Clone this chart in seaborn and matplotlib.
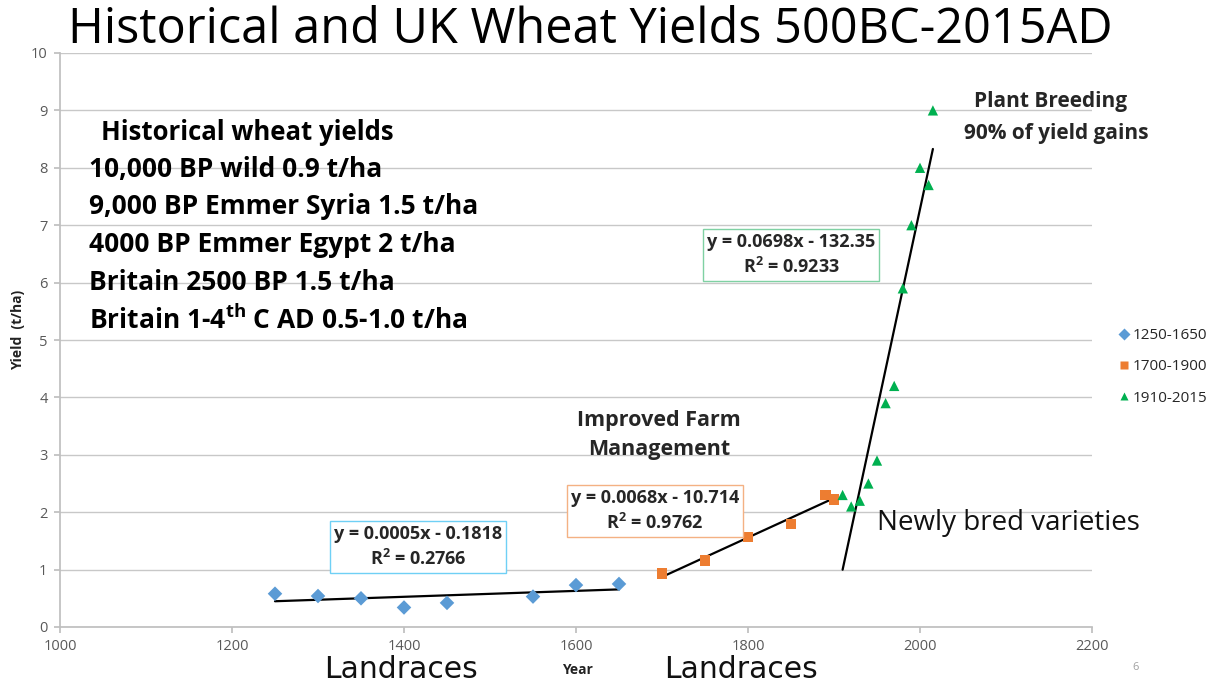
import numpy as np
import pandas as pd
import matplotlib
matplotlib.use("Agg")
import matplotlib.pyplot as plt
import seaborn as sns

# ---- data ----
years_a = [1250, 1300, 1350, 1400, 1450, 1550, 1600, 1650]
yield_a = [0.58, 0.54, 0.50, 0.34, 0.42, 0.53, 0.73, 0.75]
years_b = [1700, 1750, 1800, 1850, 1890, 1900]
yield_b = [0.93, 1.16, 1.57, 1.79, 2.30, 2.22]
years_c = [1910, 1920, 1930, 1940, 1950, 1960, 1970, 1980, 1990, 2000, 2010, 2015]
yield_c = [2.30, 2.10, 2.20, 2.50, 2.90, 3.90, 4.20, 5.90, 7.00, 8.00, 7.70, 9.00]
series_names = ["1250-1650", "1700-1900", "1910-2015"]
colors = ["#5B9BD5", "#ED7D31", "#00B050"]
markers = ["D", "s", "^"]
eq_texts = ["y = 0.0005x - 0.1818\nR$^2$ = 0.2766",
            "y = 0.0068x - 10.714\nR$^2$ = 0.9762",
            "y = 0.0698x - 132.35\nR$^2$ = 0.9233"]
box_edges = ["#6FD0F5", "#F4B183", "#7FD1A3"]
x_ticks = [1000, 1200, 1400, 1600, 1800, 2000, 2200]
y_ticks = list(range(0, 11))
history_lines = ["10,000 BP wild 0.9 t/ha",
                 "9,000 BP Emmer Syria 1.5 t/ha",
                 "4000 BP Emmer Egypt 2 t/ha",
                 "Britain 2500 BP 1.5 t/ha",
                 "Britain 1-4$^{\\mathbf{th}}$ C AD 0.5-1.0 t/ha"]

df = pd.concat([
    pd.DataFrame({"Year": years_a, "Yield": yield_a, "Period": series_names[0]}),
    pd.DataFrame({"Year": years_b, "Yield": yield_b, "Period": series_names[1]}),
    pd.DataFrame({"Year": years_c, "Yield": yield_c, "Period": series_names[2]}),
], ignore_index=True)

sns.set_theme(style="white")
plt.rcParams["font.family"] = ["Open Sans", "DejaVu Sans"]
plt.rcParams["mathtext.fontset"] = "custom"
plt.rcParams["mathtext.rm"] = "Open Sans:bold"
plt.rcParams["mathtext.bf"] = "Open Sans:bold"

fig = plt.figure(figsize=(12.31, 6.83), dpi=100)
ax = fig.add_axes([60/1231, 1-627/683, (1092-60)/1231, (627-53)/683])

# trend lines
for name, c in zip(series_names, colors):
    sub = df[df["Period"] == name]
    sns.regplot(data=sub, x="Year", y="Yield", ax=ax, scatter=False, ci=None,
                truncate=True, line_kws={"color": "black", "lw": 1.6})

sns.scatterplot(data=df, x="Year", y="Yield", hue="Period", style="Period",
                palette=dict(zip(series_names, colors)),
                markers=dict(zip(series_names, markers)),
                s=55, edgecolor="none", ax=ax, zorder=3)

ax.set_xlim(1000, 2200)
ax.set_ylim(0, 10)
ax.set_xticks(x_ticks)
ax.set_yticks(y_ticks)
ax.yaxis.grid(True, color="#C8C8C8", lw=1)
ax.xaxis.grid(False)
for s in ["top", "right"]:
    ax.spines[s].set_visible(False)
for s in ["left", "bottom"]:
    ax.spines[s].set_color("#BFBFBF")
ax.tick_params(axis="both", labelsize=10.5, colors="#BFBFBF",
               length=4, direction="out", left=True, bottom=True, pad=5)
for lab in ax.get_xticklabels() + ax.get_yticklabels():
    lab.set_color("#595959")
    lab.set_fontsize(10.5)
ax.set_xlabel("")
ax.set_ylabel("")

# legend
leg = ax.legend(loc="center left", bbox_to_anchor=(1.016, 0.453), frameon=False,
                fontsize=11, handletextpad=0.05, labelspacing=1.05, markerscale=0.8,
                handlelength=1.0, borderpad=0)

# axis labels
fig.text(18/1231, 1-330/683, "Yield  (t/ha)", rotation=90, ha="center", va="center",
         fontsize=10, fontweight="bold", color="#222222")
fig.text(577/1231, 1-670/683, "Year", ha="center", va="center",
         fontsize=10, fontweight="bold", color="#222222")
for xc in [401, 741]:
    fig.text(xc/1231, 1-669/683, "Landraces", ha="center", va="center",
             fontsize=21.5, family="DejaVu Sans", color="#111111")
fig.text(1136/1231, 1-667/683, "6", ha="center", va="center", fontsize=8, color="#A0A0A0")

# title
fig.text(68/1231, 1-30/683, "Historical and UK Wheat Yields 500BC-2015AD",
         ha="left", va="center", fontsize=35, color="black")

# historical text
fig.text(247/1231, 1-133/683, "Historical wheat yields", ha="center", va="center",
         fontsize=18.5, fontweight="bold", color="black")
for i, line in enumerate(history_lines):
    fig.text(89/1231, 1-(169 + i*37.8)/683, line, ha="left", va="center",
             fontsize=19, fontweight="bold", color="black")

fig.text(1051/1231, 1-101/683, "Plant Breeding", ha="center", va="center",
         fontsize=15, fontweight="bold")
fig.text(1056/1231, 1-133/683, "90% of yield gains", ha="center", va="center",
         fontsize=15, fontweight="bold")
fig.text(659/1231, 1-435/683, "Improved Farm\nManagement", ha="center", va="center",
         fontsize=15.5, fontweight="bold", linespacing=1.5)
fig.text(1008/1231, 1-523/683, "Newly bred varieties", ha="center", va="center",
         fontsize=20, color="#111111")

# equation boxes
eq_pos = [(418, 547), (655, 511), (791, 255)]
for (px, py), t, ec in zip(eq_pos, eq_texts, box_edges):
    fig.text(px/1231, 1-py/683, t, ha="center", va="center", fontsize=13,
             fontweight="bold", linespacing=1.4, multialignment="center",
             bbox=dict(boxstyle="square,pad=0.22", fc="white", ec=ec, lw=1))

fig.savefig("out.png", dpi=100)
